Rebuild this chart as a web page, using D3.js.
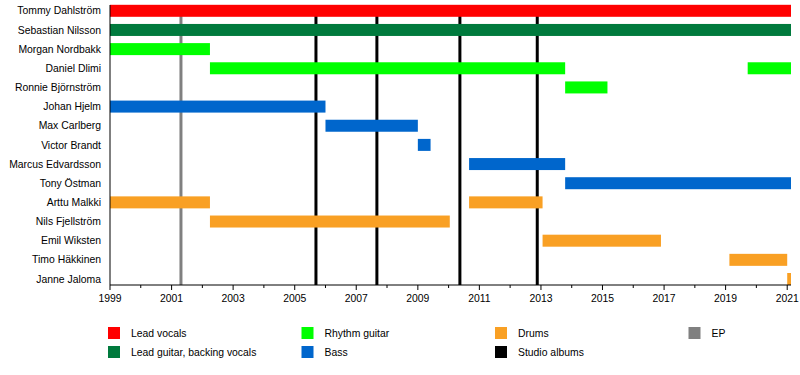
<!DOCTYPE html>
<html>
<head>
<meta charset="utf-8">
<script src="https://cdn.jsdelivr.net/npm/d3@7"></script>
<style>
  body { margin: 0; background: #fff; }
  svg { font-family: "Liberation Sans", Arial, sans-serif; }
</style>
</head>
<body>
<svg width="800" height="375"></svg>
<script>
// band members, top to bottom
const members = ['Tommy Dahlström', 'Sebastian Nilsson', 'Morgan Nordbakk', 'Daniel Dlimi',
  'Ronnie Björnström', 'Johan Hjelm', 'Max Carlberg', 'Victor Brandt', 'Marcus Edvardsson',
  'Tony Östman', 'Arttu Malkki', 'Nils Fjellström', 'Emil Wiksten', 'Timo Häkkinen', 'Janne Jaloma'];

const roles = ['Lead vocals', 'Lead guitar, backing vocals', 'Rhythm guitar', 'Bass', 'Drums', 'Studio albums', 'EP'];
const roleColors = ['#ff0000', '#007a3d', '#00ff00', '#0066cc', '#f9a024', '#000000', '#808080'];

const periodStart = '1999-01-01';
const periodEnd = '2021-02-15';

// member, role, from, till
const stints = [
  ['Tommy Dahlström', 'Lead vocals', '1999-01-01', periodEnd],
  ['Sebastian Nilsson', 'Lead guitar, backing vocals', '1999-01-01', periodEnd],
  ['Morgan Nordbakk', 'Rhythm guitar', '1999-01-01', '2002-04-01'],
  ['Daniel Dlimi', 'Rhythm guitar', '2002-04-01', '2013-10-15'],
  ['Daniel Dlimi', 'Rhythm guitar', '2019-09-20', periodEnd],
  ['Ronnie Björnström', 'Rhythm guitar', '2013-10-15', '2015-03-01'],
  ['Johan Hjelm', 'Bass', '1999-01-01', '2006-01-01'],
  ['Max Carlberg', 'Bass', '2006-01-01', '2009-01-01'],
  ['Victor Brandt', 'Bass', '2009-01-01', '2009-06-01'],
  ['Marcus Edvardsson', 'Bass', '2010-09-01', '2013-10-15'],
  ['Tony Östman', 'Bass', '2013-10-15', periodEnd],
  ['Arttu Malkki', 'Drums', '1999-01-01', '2002-04-01'],
  ['Arttu Malkki', 'Drums', '2010-09-01', '2013-01-20'],
  ['Nils Fjellström', 'Drums', '2002-04-01', '2010-01-15'],
  ['Emil Wiksten', 'Drums', '2013-01-20', '2016-11-25'],
  ['Timo Häkkinen', 'Drums', '2019-02-15', '2021-01-01'],
  ['Janne Jaloma', 'Drums', '2021-01-01', periodEnd]
];

// release markers
const epDates = ['2001-04-22'];
const albumDates = ['2005-09-10', '2007-09-03', '2010-05-15', '2012-11-18'];

const majorTicks = ['1999', '2001', '2003', '2005', '2007', '2009', '2011', '2013', '2015', '2017', '2019', '2021'];

const parse = d3.timeParse('%Y-%m-%d');
const color = d3.scaleOrdinal().domain(roles).range(roleColors);

const svg = d3.select('svg');
const plotLeft = 110, plotRight = 791, plotTop = 5, axisY = 285;
const fontSize = 10.4;

const x = d3.scaleTime()
  .domain([parse(periodStart), parse(periodEnd)])
  .range([plotLeft, plotRight]);

const y = d3.scalePoint()
  .domain(members)
  .range([10.8, 279]);

// release lines (drawn under the bars)
svg.append('g').selectAll('line')
  .data(epDates)
  .join('line')
  .attr('x1', d => x(parse(d))).attr('x2', d => x(parse(d)))
  .attr('y1', plotTop).attr('y2', axisY)
  .attr('stroke', color('EP'))
  .attr('stroke-width', 3);

svg.append('g').selectAll('line')
  .data(albumDates)
  .join('line')
  .attr('x1', d => x(parse(d))).attr('x2', d => x(parse(d)))
  .attr('y1', plotTop).attr('y2', axisY)
  .attr('stroke', color('Studio albums'))
  .attr('stroke-width', 3);

// bars
svg.append('g').selectAll('rect')
  .data(stints)
  .join('rect')
  .attr('x', d => x(parse(d[2])))
  .attr('width', d => x(parse(d[3])) - x(parse(d[2])))
  .attr('y', d => y(d[0]) - 6)
  .attr('height', 12)
  .attr('fill', d => color(d[1]));

// member names
svg.append('g').selectAll('text')
  .data(members)
  .join('text')
  .attr('x', 101)
  .attr('y', d => y(d))
  .attr('dy', '0.35em')
  .attr('text-anchor', 'end')
  .attr('font-size', fontSize)
  .attr('fill', '#000')
  .text(d => d);

// left border
svg.append('line')
  .attr('x1', plotLeft).attr('x2', plotLeft)
  .attr('y1', plotTop).attr('y2', axisY)
  .attr('stroke', '#000');

// x axis: major ticks every 2 years, minor every year
const years = d3.range(1999, 2022).map(v => new Date(v, 0, 1));
const axis = svg.append('g').attr('transform', 'translate(0,' + axisY + ')');
axis.append('line')
  .attr('x1', plotLeft).attr('x2', plotRight)
  .attr('stroke', '#000');
axis.selectAll('line.tick')
  .data(years)
  .join('line')
  .attr('class', 'tick')
  .attr('x1', d => x(d)).attr('x2', d => x(d))
  .attr('y1', 0)
  .attr('y2', d => majorTicks.includes(String(d.getFullYear())) ? 5 : 3)
  .attr('stroke', '#000');
axis.selectAll('text')
  .data(majorTicks)
  .join('text')
  .attr('x', d => x(new Date(+d, 0, 1)))
  .attr('y', 17)
  .attr('text-anchor', 'middle')
  .attr('font-size', fontSize)
  .attr('fill', '#000')
  .text(d => d);

// legend
const legendOrder = ['Lead vocals', 'Lead guitar, backing vocals', 'Rhythm guitar', 'Bass', 'Drums', 'Studio albums', 'EP'];
const legend = svg.append('g').selectAll('g')
  .data(legendOrder)
  .join('g')
  .attr('transform', (d, i) => 'translate(' + (108 + Math.floor(i / 2) * 193.5) + ',' + (327 + (i % 2) * 19) + ')');
legend.append('rect')
  .attr('width', 12).attr('height', 12)
  .attr('fill', d => color(d));
legend.append('text')
  .attr('x', 23).attr('y', 6)
  .attr('dy', '0.35em')
  .attr('font-size', fontSize)
  .attr('fill', '#000')
  .text(d => d);
</script>
</body>
</html>
